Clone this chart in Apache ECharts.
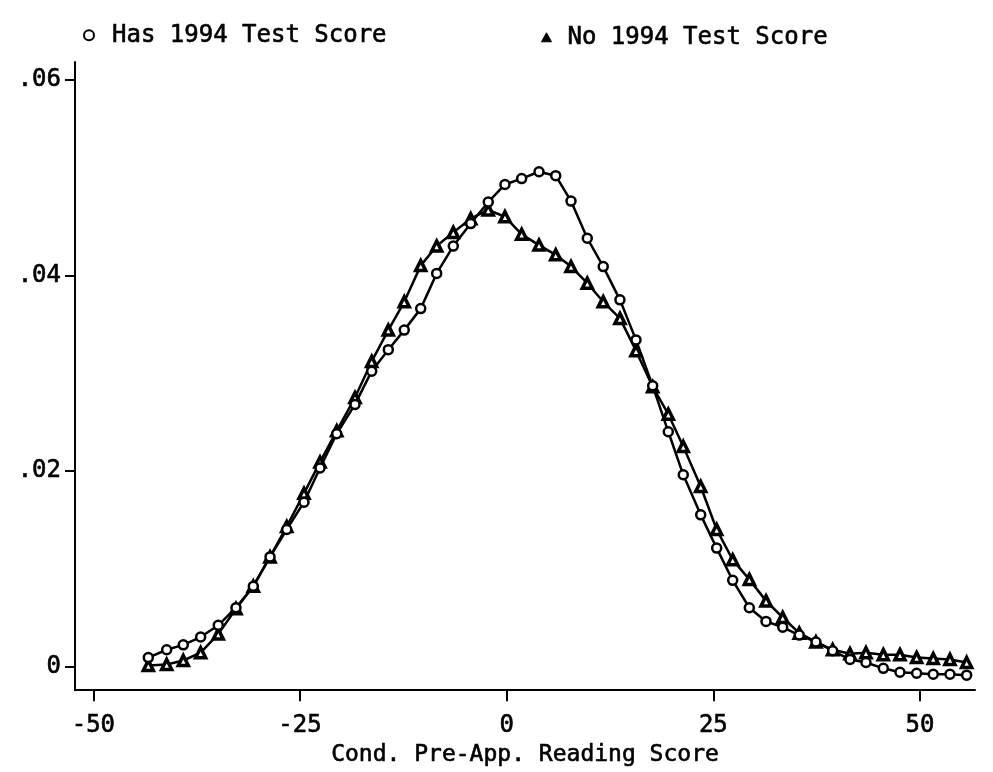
<!DOCTYPE html>
<html>
<head>
<meta charset="utf-8">
<script src="https://cdn.jsdelivr.net/npm/echarts@6/dist/echarts.min.js"></script>
<style>html,body{margin:0;padding:0;background:#fff;}#c{width:993px;height:772px;}</style>
</head>
<body>
<div id="c"></div>
<script>
// Conditional pre-application reading score (x positions of the density estimates)
var xScore = [-43.35,-41.13,-39.12,-37.02,-34.89,-32.75,-30.65,-28.63,-26.61,-24.52,
  -22.58,-20.56,-18.35,-16.33,-14.32,-12.39,-10.40,-8.47,-6.46,-4.35,
  -2.23,-0.21,1.81,3.91,5.93,7.78,9.75,11.68,13.70,15.64,
  17.66,19.55,21.36,23.47,25.40,27.34,29.35,31.37,33.39,35.39,
  37.41,39.43,41.53,43.46,45.56,47.57,49.59,51.60,53.62,55.64];
// Density, has 1994 test score (circles)
var hasScore = [0.0009,0.0017,0.0022,0.0030,0.0042,0.0060,0.0082,0.0112,0.0140,0.0168,
  0.0203,0.0238,0.0268,0.0302,0.0324,0.0344,0.0366,0.0402,0.0430,0.0453,
  0.0475,0.0493,0.0499,0.0506,0.0502,0.0476,0.0438,0.0409,0.0375,0.0334,
  0.0287,0.0240,0.0196,0.0155,0.0121,0.0088,0.0060,0.0046,0.0040,0.0032,
  0.0025,0.0016,0.0007,0.0004,-0.0002,-0.0006,-0.0007,-0.0008,-0.0008,-0.0009];
// Density, no 1994 test score (triangles)
var noScore = [0.0001,0.0002,0.0006,0.0014,0.0033,0.0059,0.0082,0.0112,0.0143,0.0177,
  0.0209,0.0241,0.0275,0.0312,0.0344,0.0373,0.0410,0.0430,0.0444,0.0458,
  0.0467,0.0460,0.0442,0.0431,0.0421,0.0409,0.0392,0.0373,0.0356,0.0323,
  0.0286,0.0258,0.0225,0.0184,0.0140,0.0109,0.0089,0.0067,0.0050,0.0034,
  0.0025,0.0017,0.0013,0.0014,0.0012,0.0012,0.0009,0.0008,0.0007,0.0004];
var xTicks = [-50, -25, 0, 25, 50];
var yTicks = [0, 0.02, 0.04, 0.06];
var yTickLabels = ['0', '.02', '.04', '.06'];
var seriesNames = ['Has 1994 Test Score', 'No 1994 Test Score'];
var xTitle = 'Cond. Pre-App. Reading Score';

function pairs(xs, ys) { return xs.map(function (x, i) { return [x, ys[i]]; }); }

var FONT = '"DejaVu Sans Mono", monospace';
var TXT = {fontFamily: FONT, fontSize: 24, color: '#000', textBorderColor: '#000', textBorderWidth: 0.6};
function txt(extra) { var o = {}; for (var k in TXT) o[k] = TXT[k]; for (var k2 in extra) o[k2] = extra[k2]; return o; }

var chart = echarts.init(document.getElementById('c'), null, {renderer: 'canvas'});
chart.setOption({
  animation: false,
  backgroundColor: '#fff',
  grid: {left: 75, top: 62, width: 900, height: 633, containLabel: false},
  legend: [
    {
      left: 78, top: 18, itemWidth: 10, itemHeight: 10, itemGap: 0,
      data: [{name: seriesNames[0], icon: 'circle',
        itemStyle: {color: '#fff', borderColor: '#000', borderWidth: 2}}],
      textStyle: txt({padding: [0, 0, 0, 13]})
    },
    {
      left: 536, top: 20, itemWidth: 10, itemHeight: 9, itemGap: 0,
      data: [{name: seriesNames[1], icon: 'triangle',
        itemStyle: {color: '#000', borderColor: '#000', borderWidth: 1}}],
      textStyle: txt({padding: [0, 0, 0, 11]})
    }
  ],
  xAxis: {
    type: 'value',
    min: -52.22, max: 56.65,
    name: xTitle, nameLocation: 'middle', nameGap: 53,
    nameTextStyle: txt({fontSize: 23}),
    axisLine: {show: true, onZero: false, lineStyle: {color: '#000', width: 2}},
    axisTick: {show: true, length: 11, customValues: xTicks, lineStyle: {color: '#000', width: 2}},
    axisLabel: txt({customValues: xTicks, margin: 24,
      formatter: function (v) { return String(v); }}),
    splitLine: {show: false}
  },
  yAxis: {
    type: 'value',
    min: -0.002437, max: 0.06183,
    axisLine: {show: true, onZero: false, lineStyle: {color: '#000', width: 2}},
    axisTick: {show: true, length: 10, customValues: yTicks, lineStyle: {color: '#000', width: 2}},
    axisLabel: txt({customValues: yTicks, margin: 14,
      formatter: function (v) {
        for (var i = 0; i < yTicks.length; i++) { if (Math.abs(v - yTicks[i]) < 1e-9) return yTickLabels[i]; }
        return '';
      }}),
    splitLine: {show: false}
  },
  series: [
    {
      name: seriesNames[0], type: 'line', data: pairs(xScore, hasScore),
      symbol: 'circle', symbolSize: 9, showAllSymbol: true,
      lineStyle: {color: '#000', width: 2.5},
      itemStyle: {color: '#fff', borderColor: '#000', borderWidth: 2.5},
      z: 3
    },
    {
      name: seriesNames[1], type: 'line', data: pairs(xScore, noScore),
      symbol: 'triangle', symbolSize: 10, showAllSymbol: true,
      lineStyle: {color: '#000', width: 2.5},
      itemStyle: {color: '#fff', borderColor: '#000', borderWidth: 3.5},
      z: 2
    }
  ]
});
</script>
</body>
</html>
